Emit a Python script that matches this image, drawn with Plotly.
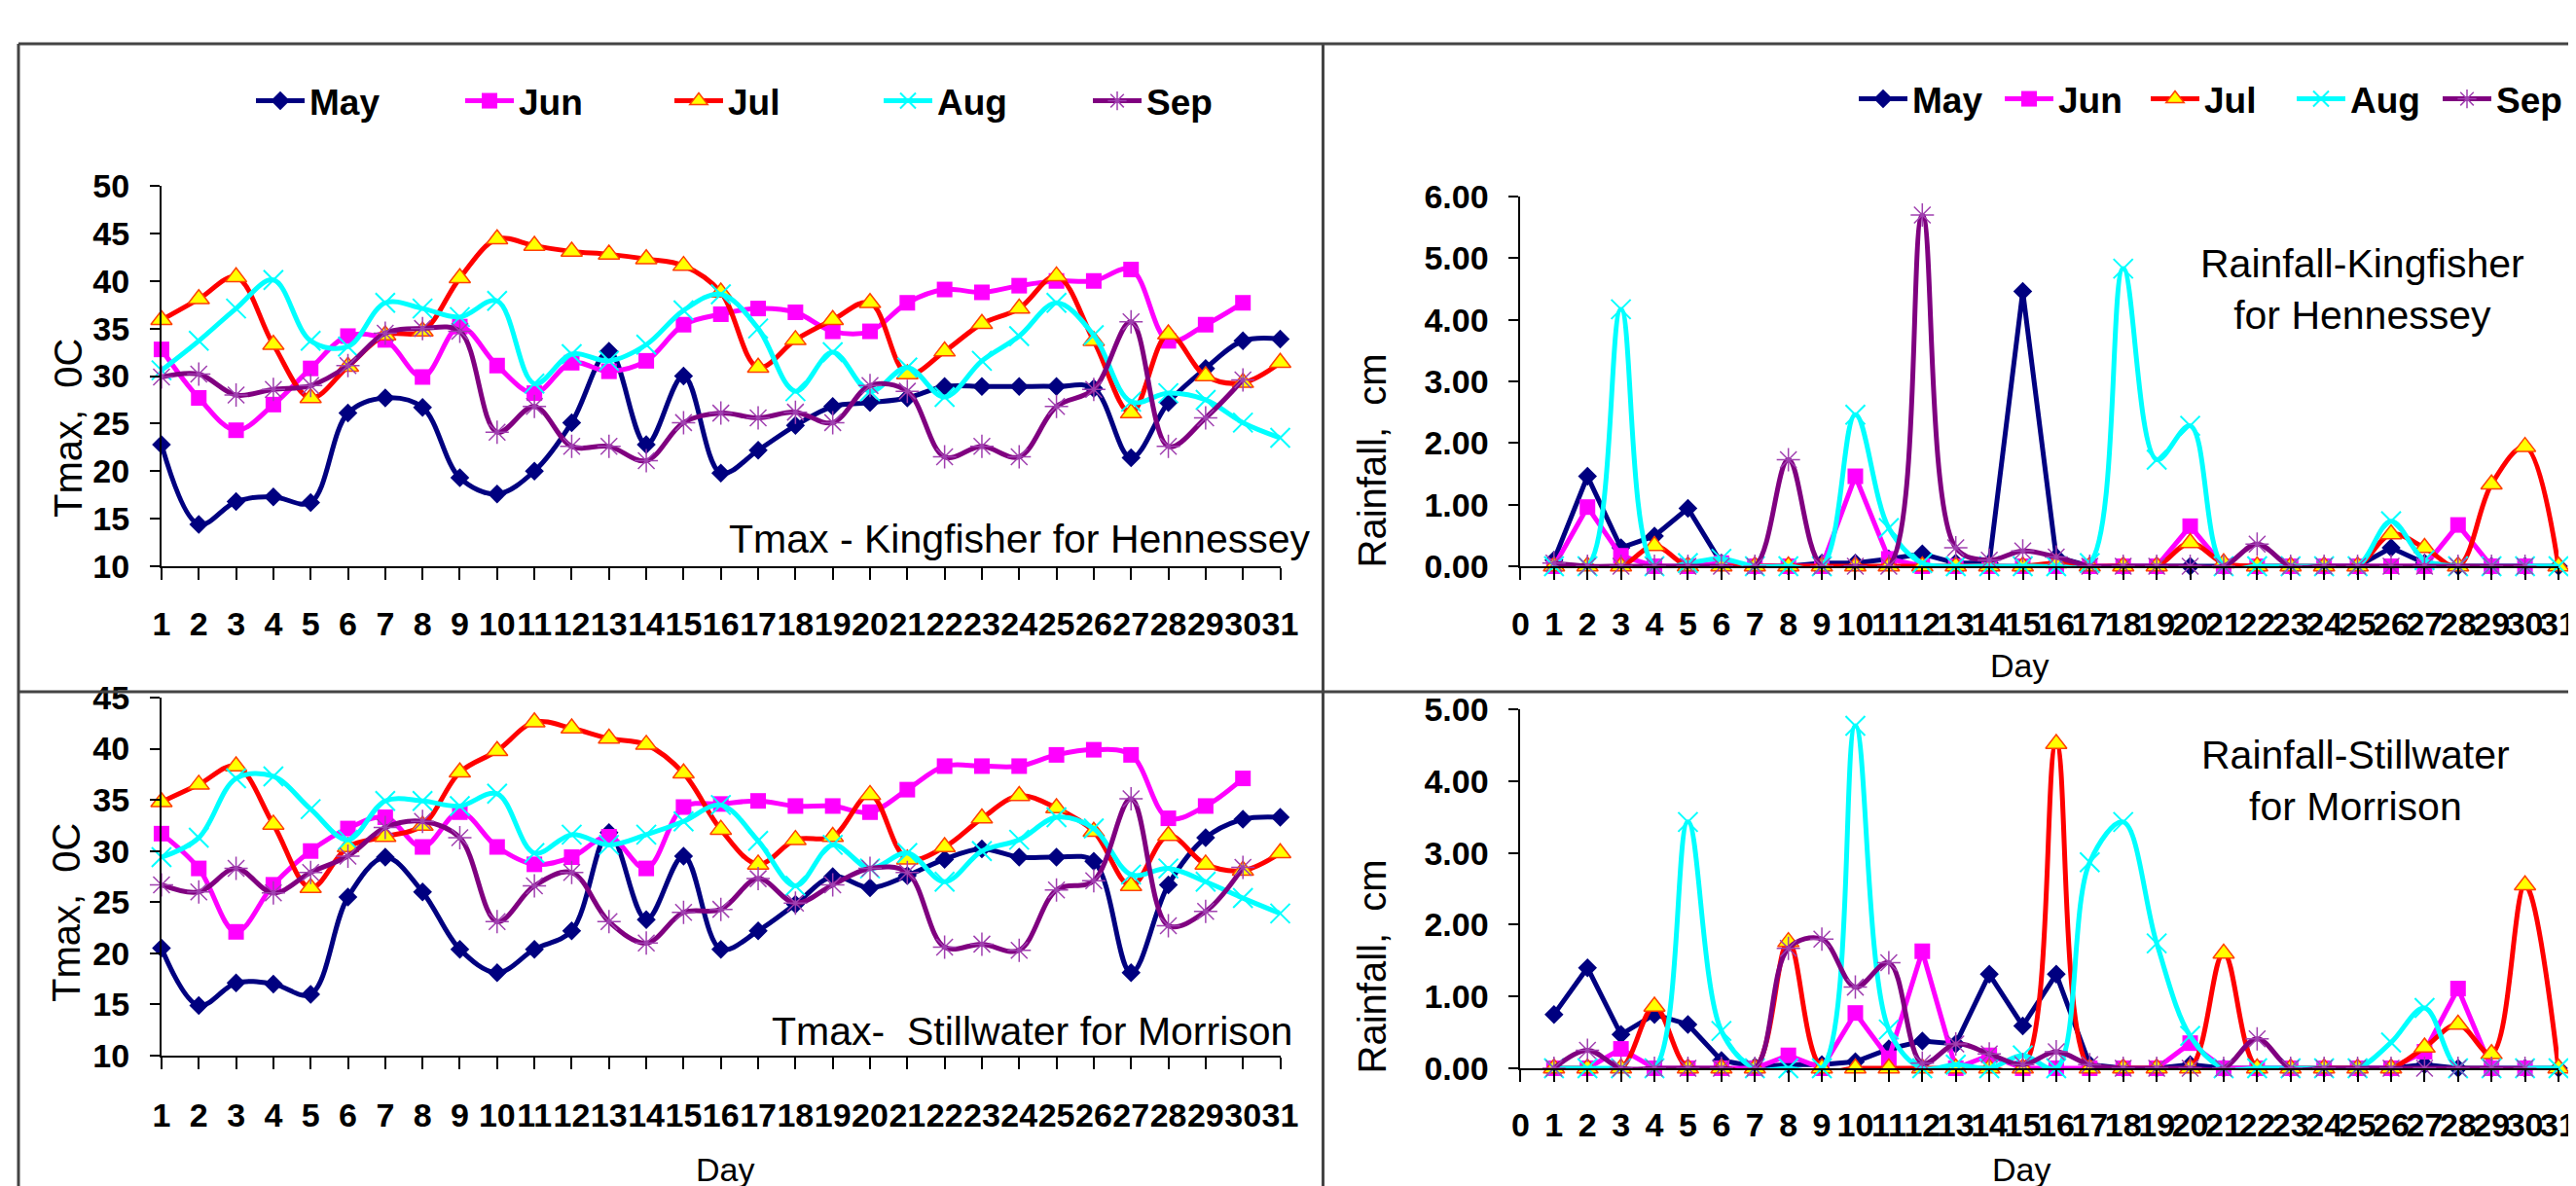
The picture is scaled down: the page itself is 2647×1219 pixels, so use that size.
import plotly.graph_objects as go

W, H = 2647, 1219


def fx(x):
    return x / W


def fy(y):
    return 1 - y / H


months = ["May", "Jun", "Jul", "Aug", "Sep"]
days_tmax = list(range(1, 32))
days_rain_ticks = list(range(0, 32))

# Tmax - Kingfisher for Hennessey (deg C)
tk_may = [22.8, 14.4, 16.8, 17.3, 16.7, 26.1, 27.7, 26.7, 19.3, 17.6, 20.0, 25.1, 32.6, 22.8, 30.0, 19.8,
          22.2, 24.8, 26.8, 27.2, 27.7, 28.9, 28.9, 28.9, 28.9, 28.7, 21.4, 27.2, 30.8, 33.7, 33.9]
tk_jun = [32.8, 27.7, 24.3, 27.0, 30.8, 34.2, 33.8, 29.9, 35.2, 31.1, 28.2, 31.4, 30.5, 31.6, 35.4, 36.5,
          37.1, 36.7, 34.7, 34.7, 37.7, 39.1, 38.8, 39.5, 40.0, 40.0, 41.2, 33.7, 35.4, 37.7]
tk_jul = [35.9, 38.1, 40.4, 33.3, 27.7, 31.0, 34.3, 34.7, 40.3, 44.4, 43.7, 43.1, 42.8, 42.3, 41.6, 38.8,
          30.9, 33.8, 35.9, 37.7, 30.2, 32.6, 35.5, 37.1, 40.5, 33.7, 26.1, 34.4, 30.0, 29.3, 31.4]
tk_aug = [30.6, 33.7, 37.1, 40.1, 33.7, 33.1, 37.7, 37.1, 36.2, 37.9, 29.2, 32.3, 31.6, 33.3, 36.9, 38.6,
          35.0, 28.4, 32.5, 28.4, 30.9, 27.8, 31.6, 34.2, 37.7, 34.3, 27.3, 28.2, 27.5, 25.1, 23.5]
tk_sep = [29.9, 30.2, 28.0, 28.6, 29.0, 31.1, 34.5, 35.0, 34.7, 24.1, 26.8, 22.6, 22.6, 21.1, 25.1, 26.1,
          25.6, 26.2, 25.1, 29.0, 28.4, 21.5, 22.6, 21.5, 26.8, 28.6, 35.7, 22.6, 25.6, 29.6]

# Tmax - Stillwater for Morrison (deg C)
ts_may = [20.5, 14.9, 17.1, 17.0, 16.0, 25.5, 29.4, 26.0, 20.4, 18.1, 20.4, 22.2, 31.8, 23.3, 29.5, 20.4,
          22.2, 24.8, 27.5, 26.4, 27.6, 29.2, 30.2, 29.4, 29.4, 29.0, 18.1, 26.7, 31.3, 33.1, 33.3]
ts_jun = [31.7, 28.3, 22.1, 26.7, 30.0, 32.2, 33.3, 30.4, 33.8, 30.4, 28.7, 29.4, 31.4, 28.3, 34.3, 34.6,
          34.9, 34.4, 34.4, 33.8, 36.0, 38.3, 38.3, 38.3, 39.4, 39.9, 39.4, 33.2, 34.4, 37.1]
ts_jul = [34.8, 36.5, 38.3, 32.6, 26.4, 30.4, 31.4, 32.5, 37.7, 39.8, 42.6, 42.0, 41.0, 40.4, 37.6, 32.1,
          28.7, 31.1, 31.4, 35.5, 29.2, 30.4, 33.2, 35.4, 34.2, 31.9, 26.6, 31.5, 28.7, 28.1, 29.8]
ts_aug = [29.4, 31.3, 37.1, 37.3, 34.1, 31.1, 34.9, 34.9, 34.4, 35.6, 29.8, 31.6, 30.6, 31.6, 32.9, 34.5,
          31.0, 26.6, 30.6, 28.3, 29.8, 27.0, 30.0, 31.1, 33.3, 32.2, 27.7, 28.3, 27.0, 25.4, 23.9]
ts_sep = [26.7, 26.0, 28.3, 25.9, 27.9, 29.5, 32.3, 32.9, 31.3, 23.1, 26.6, 27.9, 23.1, 21.0, 24.0, 24.3,
          27.3, 24.9, 26.7, 28.3, 27.9, 20.6, 20.9, 20.3, 26.2, 27.1, 35.1, 22.7, 24.1, 28.4]

# Rainfall - Kingfisher for Hennessey (cm)
rk_may = [0.10, 1.46, 0.30, 0.49, 0.94, 0.05, 0.0, 0.0, 0.05, 0.05, 0.12, 0.20, 0.05, 0.05, 4.46, 0.15,
          0.0, 0.0, 0.0, 0.0, 0.0, 0.0, 0.0, 0.0, 0.0, 0.30, 0.05, 0.0, 0.0, 0.0, 0.0]
rk_jun = [0.0, 0.96, 0.17, 0.0, 0.0, 0.05, 0.0, 0.0, 0.0, 1.46, 0.12, 0.0, 0.0, 0.0, 0.0, 0.0,
          0.0, 0.0, 0.0, 0.65, 0.0, 0.0, 0.0, 0.0, 0.0, 0.0, 0.0, 0.67, 0.0, 0.0]
rk_jul = [0.0, 0.0, 0.0, 0.33, 0.0, 0.0, 0.0, 0.0, 0.0, 0.0, 0.0, 0.0, 0.0, 0.0, 0.0, 0.05,
          0.0, 0.0, 0.0, 0.38, 0.05, 0.0, 0.0, 0.0, 0.0, 0.52, 0.30, 0.0, 1.33, 1.94, 0.0]
rk_aug = [0.0, 0.0, 4.17, 0.0, 0.05, 0.12, 0.0, 0.0, 0.0, 2.46, 0.62, 0.05, 0.0, 0.0, 0.0, 0.0,
          0.05, 4.83, 1.73, 2.28, 0.0, 0.0, 0.0, 0.0, 0.0, 0.73, 0.10, 0.0, 0.0, 0.0, 0.0]
rk_sep = [0.05, 0.0, 0.0, 0.0, 0.0, 0.0, 0.0, 1.73, 0.0, 0.0, 0.0, 5.70, 0.30, 0.10, 0.25, 0.15,
          0.0, 0.0, 0.0, 0.0, 0.0, 0.36, 0.0, 0.0, 0.0, 0.0, 0.0, 0.0, 0.0, 0.0]

# Rainfall - Stillwater for Morrison (cm)
rs_may = [0.75, 1.40, 0.47, 0.75, 0.61, 0.11, 0.02, 0.05, 0.05, 0.09, 0.27, 0.38, 0.34, 1.31, 0.59, 1.31,
          0.05, 0.0, 0.0, 0.05, 0.0, 0.0, 0.0, 0.0, 0.0, 0.0, 0.05, 0.0, 0.0, 0.0, 0.0]
rs_jun = [0.0, 0.0, 0.27, 0.0, 0.0, 0.0, 0.0, 0.18, 0.0, 0.77, 0.14, 1.63, 0.0, 0.18, 0.0, 0.0,
          0.0, 0.0, 0.0, 0.35, 0.0, 0.0, 0.0, 0.0, 0.0, 0.0, 0.23, 1.11, 0.0, 0.0]
rs_jul = [0.0, 0.0, 0.0, 0.86, 0.0, 0.0, 0.0, 1.76, 0.0, 0.0, 0.0, 0.0, 0.0, 0.0, 0.0, 4.52,
          0.0, 0.0, 0.0, 0.0, 1.60, 0.0, 0.0, 0.0, 0.0, 0.0, 0.29, 0.61, 0.20, 2.55, 0.0]
rs_aug = [0.0, 0.0, 0.0, 0.0, 3.43, 0.52, 0.0, 0.0, 0.0, 4.77, 0.54, 0.0, 0.05, 0.0, 0.18, 0.0,
          2.87, 3.43, 1.74, 0.45, 0.0, 0.0, 0.0, 0.0, 0.0, 0.36, 0.84, 0.0, 0.0, 0.0, 0.0]
rs_sep = [0.0, 0.25, 0.0, 0.0, 0.0, 0.0, 0.0, 1.67, 1.80, 1.13, 1.47, 0.07, 0.34, 0.20, 0.05, 0.23,
          0.05, 0.0, 0.0, 0.0, 0.0, 0.41, 0.0, 0.0, 0.0, 0.0, 0.0, 0.0, 0.0, 0.0]

SANS = "Liberation Sans, Arial, sans-serif"

styles = {
    "May": dict(line=dict(color="#000080", width=5),
                marker=dict(symbol="diamond", size=15, color="#000080")),
    "Jun": dict(line=dict(color="#FF00FF", width=5),
                marker=dict(symbol="square", size=16, color="#FF00FF")),
    "Jul": dict(line=dict(color="#FF0000", width=5),
                marker=dict(symbol="triangle-up", size=19, color="#FFFF00",
                            line=dict(color="#FF4000", width=1.5))),
    "Aug": dict(line=dict(color="#00FFFF", width=5),
                marker=dict(symbol="x-thin-open", size=20, color="#00FFFF",
                            line=dict(color="#00FFFF", width=2))),
    "Sep": dict(line=dict(color="#800080", width=5),
                marker=dict(symbol="asterisk-open", size=20, color="#A040B0",
                            line=dict(color="#A040B0", width=1.5))),
}

fig = go.Figure()

panels = [
    ("x", "y", [tk_may, tk_jun, tk_jul, tk_aug, tk_sep], "legend", True, False),
    ("x2", "y2", [rk_may, rk_jun, rk_jul, rk_aug, rk_sep], "legend2", True, True),
    ("x3", "y3", [ts_may, ts_jun, ts_jul, ts_aug, ts_sep], "legend", False, False),
    ("x4", "y4", [rs_may, rs_jun, rs_jul, rs_aug, rs_sep], "legend2", False, True),
]

for xa, ya, series, leg, show, is_rain in panels:
    for m, vals in zip(months, series):
        st = styles[m]
        shape = "spline"
        if is_rain and m in ("May", "Jun"):
            shape = "linear"
        fig.add_trace(go.Scatter(
            x=days_tmax[:len(vals)], y=vals, name=m, mode="lines+markers",
            line=dict(color=st["line"]["color"], width=st["line"]["width"], shape=shape, smoothing=1),
            marker=st["marker"], xaxis=xa, yaxis=ya, legend=leg, showlegend=show,
            cliponaxis=False,
        ))

tickfont = dict(family=SANS, size=34, color="black", weight="bold")

common_x = dict(showgrid=False, zeroline=False, showline=True, linecolor="black", linewidth=2,
                ticks="outside", ticklen=12, tickwidth=1.5, tickcolor="black",
                tickfont=tickfont, tickangle=0, automargin=False, tickmode="array")
common_y = dict(showgrid=False, zeroline=False, showline=True, linecolor="black", linewidth=2,
                ticks="outside", ticklen=10, tickwidth=1.5, tickcolor="black",
                tickfont=tickfont, automargin=False, ticklabelstandoff=14)

LX0, LX1 = 158, 1308
RX0, RX1 = 1555, 2622

fig.update_layout(
    width=W, height=H, margin=dict(l=0, r=0, t=0, b=0),
    paper_bgcolor="white", plot_bgcolor="white",
    xaxis=dict(common_x, domain=[fx(LX0), fx(LX1)], range=[1, 31], tickvals=days_tmax,
               anchor="y", ticklabelstandoff=16),
    yaxis=dict(common_y, domain=[fy(574), fy(183)], range=[10, 50], dtick=5, tick0=10, anchor="x"),
    xaxis2=dict(common_x, domain=[fx(RX0), fx(RX1)], range=[0, 31], tickvals=days_rain_ticks,
                anchor="y2", ticklabelstandoff=16),
    yaxis2=dict(common_y, domain=[fy(574), fy(194)], range=[0, 6], dtick=1, tickformat=".2f", anchor="x2"),
    xaxis3=dict(common_x, domain=[fx(LX0), fx(LX1)], range=[1, 31], tickvals=days_tmax,
                anchor="y3", ticklabelstandoff=18),
    yaxis3=dict(common_y, domain=[fy(1077), fy(709)], range=[10, 45], dtick=5, tick0=10, anchor="x3"),
    xaxis4=dict(common_x, domain=[fx(RX0), fx(RX1)], range=[0, 31], tickvals=days_rain_ticks,
                anchor="y4", ticklabelstandoff=15),
    yaxis4=dict(common_y, domain=[fy(1090), fy(721)], range=[0, 5], dtick=1, tickformat=".2f", anchor="x4"),
    legend=dict(orientation="h", x=fx(250), y=fy(96), xanchor="left", yanchor="middle",
                font=dict(family=SANS, size=37, color="black", weight="bold"),
                itemwidth=50, entrywidth=150, bgcolor="rgba(0,0,0,0)", tracegroupgap=0),
    legend2=dict(orientation="h", x=fx(1898), y=fy(94), xanchor="left", yanchor="middle",
                 font=dict(family=SANS, size=37, color="black", weight="bold"),
                 itemwidth=50, entrywidth=85, bgcolor="rgba(0,0,0,0)", tracegroupgap=0),
    showlegend=True,
)

annots = [
    dict(text="Tmax - Kingfisher for Hennessey", x=fx(1342), y=fy(546), xanchor="right", yanchor="middle",
         font=dict(family=SANS, size=41, color="black")),
    dict(text="Tmax-  Stillwater for Morrison", x=fx(1322), y=fy(1052), xanchor="right", yanchor="middle",
         font=dict(family=SANS, size=41, color="black")),
    dict(text="Rainfall-Kingfisher<br>for Hennessey", x=fx(2420), y=fy(289), xanchor="center",
         yanchor="middle", font=dict(family=SANS, size=41, color="black")),
    dict(text="Rainfall-Stillwater<br>for Morrison", x=fx(2413), y=fy(794), xanchor="center",
         yanchor="middle", font=dict(family=SANS, size=41, color="black")),
    dict(text="Tmax,  0C", x=fx(62), y=fy(432), textangle=-90, xanchor="center", yanchor="middle",
         font=dict(family=SANS, size=40, color="black")),
    dict(text="Tmax,  0C", x=fx(60), y=fy(930), textangle=-90, xanchor="center", yanchor="middle",
         font=dict(family=SANS, size=40, color="black")),
    dict(text="Rainfall,  cm", x=fx(1403), y=fy(465), textangle=-90, xanchor="center", yanchor="middle",
         font=dict(family=SANS, size=40, color="black")),
    dict(text="Rainfall,  cm", x=fx(1403), y=fy(985), textangle=-90, xanchor="center", yanchor="middle",
         font=dict(family=SANS, size=40, color="black")),
    dict(text="Day", x=fx(2068), y=fy(676), xanchor="center", yanchor="middle",
         font=dict(family=SANS, size=34, color="black")),
    dict(text="Day", x=fx(737), y=fy(1194), xanchor="center", yanchor="middle",
         font=dict(family=SANS, size=34, color="black")),
    dict(text="Day", x=fx(2070), y=fy(1194), xanchor="center", yanchor="middle",
         font=dict(family=SANS, size=34, color="black")),
]
for a in annots:
    a.update(xref="paper", yref="paper", showarrow=False)
fig.update_layout(annotations=annots)

border = dict(color="#444444", width=3)
shapes = [
    dict(type="line", xref="paper", yref="paper", x0=fx(11), x1=1, y0=fy(37), y1=fy(37), line=border),
    dict(type="line", xref="paper", yref="paper", x0=fx(11), x1=fx(11), y0=fy(37), y1=0, line=border),
    dict(type="line", xref="paper", yref="paper", x0=fx(1352), x1=fx(1352), y0=fy(37), y1=0, line=border),
    dict(type="line", xref="paper", yref="paper", x0=fx(11), x1=1, y0=fy(703), y1=fy(703), line=border),
]
fig.update_layout(shapes=shapes)

fig.write_html("out.html")
